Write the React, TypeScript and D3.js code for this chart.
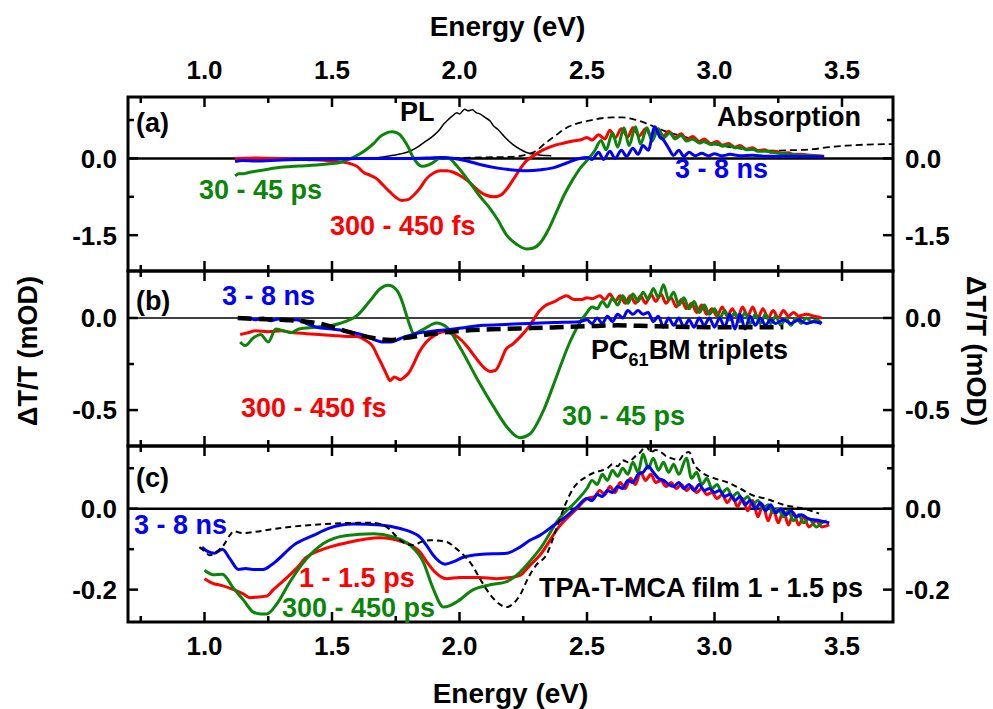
import React, { useEffect, useRef } from 'react'
import * as d3 from 'd3'

type Pt = [number, number]

// x axis ticks (Energy, eV)
const xMajor = [1.0, 1.5, 2.0, 2.5, 3.0, 3.5]
const xMinor = [0.75, 1.25, 1.75, 2.25, 2.75, 3.25]

// ---- panel (a): PL, absorption and dT/T spectra ----
const aPL: Pt[] = [[1.65,0.0],[1.70,0.03],[1.74,0.06],[1.767,0.085],[1.80,0.13],[1.832,0.21],[1.86,0.31],[1.897,0.44],[1.92,0.55],[1.94,0.68],[1.95,0.73],[1.97,0.82],[1.99,0.89],[2.0,0.87],[2.02,0.96],[2.035,0.93],[2.05,0.95],[2.067,0.89],[2.08,0.87],[2.10,0.80],[2.12,0.73],[2.133,0.64],[2.15,0.57],[2.17,0.46],[2.185,0.38],[2.21,0.27],[2.237,0.18],[2.26,0.12],[2.29,0.085],[2.32,0.06],[2.36,0.05]]
const aAbs: Pt[] = [[1.93,0.0],[2.0,0.01],[2.1,0.02],[2.2,0.03],[2.25,0.06],[2.29,0.12],[2.34,0.31],[2.38,0.46],[2.42,0.60],[2.46,0.68],[2.50,0.73],[2.55,0.78],[2.60,0.80],[2.64,0.80],[2.68,0.77],[2.73,0.69],[2.786,0.57],[2.84,0.48],[2.89,0.41],[2.94,0.34],[2.995,0.28],[3.06,0.22],[3.125,0.18],[3.18,0.16],[3.23,0.15],[3.30,0.16],[3.386,0.18],[3.45,0.22],[3.517,0.25],[3.6,0.27],[3.7,0.28]]
const aFs: Pt[] = [[1.12,0.0],[1.2,0.01],[1.3,0.0],[1.4,-0.02],[1.5,-0.05],[1.57,-0.1],[1.6,-0.16],[1.623,-0.27],[1.65,-0.33],[1.676,-0.40],[1.70,-0.52],[1.728,-0.66],[1.75,-0.76],[1.773,-0.82],[1.80,-0.80],[1.82,-0.72],[1.845,-0.58],[1.87,-0.40],[1.90,-0.28],[1.924,-0.24],[1.95,-0.24],[1.976,-0.27],[2.0,-0.33],[2.03,-0.43],[2.055,-0.54],[2.08,-0.65],[2.105,-0.72],[2.133,-0.75],[2.16,-0.72],[2.185,-0.60],[2.21,-0.42],[2.237,-0.21],[2.26,-0.06],[2.29,0.05],[2.33,0.17],[2.37,0.25],[2.41,0.30],[2.446,0.34],[2.48,0.37],[2.50,0.41],[2.52,0.36],[2.545,0.46],[2.57,0.38],[2.59,0.55],[2.61,0.40],[2.635,0.58],[2.66,0.42],[2.68,0.60],[2.705,0.44],[2.73,0.58],[2.75,0.45],[2.775,0.57],[2.80,0.44],[2.82,0.53],[2.845,0.41],[2.87,0.48],[2.89,0.37],[2.915,0.43],[2.94,0.33],[2.96,0.38],[2.985,0.29],[3.01,0.33],[3.03,0.26],[3.055,0.29],[3.08,0.22],[3.10,0.25],[3.125,0.18],[3.15,0.21],[3.17,0.15],[3.195,0.17],[3.22,0.12],[3.24,0.14],[3.265,0.10],[3.29,0.11],[3.31,0.08],[3.34,0.08],[3.38,0.06],[3.43,0.04]]
const aPs: Pt[] = [[1.12,-0.34],[1.135,-0.30],[1.153,-0.30],[1.17,-0.28],[1.19,-0.26],[1.25,-0.21],[1.31,-0.17],[1.37,-0.15],[1.44,-0.13],[1.50,-0.10],[1.53,-0.08],[1.56,-0.03],[1.584,0.02],[1.61,0.09],[1.636,0.18],[1.665,0.30],[1.69,0.43],[1.71,0.49],[1.734,0.52],[1.755,0.50],[1.767,0.46],[1.785,0.34],[1.80,0.21],[1.815,0.05],[1.832,-0.08],[1.845,-0.14],[1.858,-0.155],[1.877,-0.13],[1.897,-0.08],[1.915,-0.01],[1.93,0.02],[1.95,0.01],[1.963,-0.01],[1.99,-0.15],[2.03,-0.40],[2.08,-0.74],[2.12,-0.98],[2.15,-1.20],[2.185,-1.50],[2.225,-1.68],[2.263,-1.77],[2.29,-1.75],[2.315,-1.66],[2.35,-1.38],[2.38,-1.05],[2.41,-0.72],[2.446,-0.40],[2.475,-0.18],[2.50,-0.04],[2.53,0.15],[2.555,0.35],[2.575,0.17],[2.60,0.50],[2.62,0.22],[2.645,0.60],[2.665,0.25],[2.69,0.62],[2.71,0.28],[2.735,0.60],[2.755,0.34],[2.78,0.58],[2.80,0.40],[2.825,0.50],[2.845,0.38],[2.87,0.45],[2.89,0.34],[2.915,0.38],[2.94,0.30],[2.96,0.33],[2.985,0.27],[3.01,0.29],[3.03,0.24],[3.055,0.26],[3.08,0.21],[3.10,0.22],[3.125,0.17],[3.15,0.18],[3.17,0.14],[3.2,0.14],[3.25,0.10],[3.3,0.08],[3.35,0.06],[3.42,0.04]]
const aNs: Pt[] = [[1.12,-0.06],[1.15,-0.04],[1.2,-0.05],[1.3,-0.03],[1.4,-0.02],[1.5,-0.01],[1.6,0.0],[1.7,0.0],[1.8,0.0],[1.88,0.01],[1.93,0.02],[1.98,0.0],[2.03,-0.05],[2.08,-0.12],[2.15,-0.19],[2.20,-0.22],[2.263,-0.24],[2.32,-0.22],[2.37,-0.18],[2.42,-0.09],[2.47,0.0],[2.50,0.02],[2.52,-0.02],[2.545,0.12],[2.565,-0.02],[2.59,0.14],[2.61,0.0],[2.635,0.16],[2.655,0.04],[2.68,0.20],[2.70,0.08],[2.72,0.25],[2.74,0.16],[2.766,0.62],[2.785,0.42],[2.80,0.36],[2.82,0.20],[2.84,0.06],[2.86,0.16],[2.88,0.04],[2.90,0.12],[2.925,0.05],[2.95,0.10],[2.975,0.05],[3.0,0.09],[3.03,0.05],[3.06,0.08],[3.1,0.05],[3.15,0.06],[3.2,0.04],[3.3,0.04],[3.43,0.03]]

// ---- panel (b) ----
const bFs: Pt[] = [[1.14,-0.09],[1.17,-0.08],[1.2,-0.07],[1.25,-0.075],[1.3,-0.07],[1.35,-0.08],[1.40,-0.085],[1.45,-0.09],[1.505,-0.095],[1.56,-0.10],[1.597,-0.10],[1.63,-0.12],[1.66,-0.155],[1.68,-0.21],[1.70,-0.265],[1.715,-0.31],[1.728,-0.34],[1.745,-0.32],[1.767,-0.335],[1.785,-0.32],[1.80,-0.30],[1.82,-0.25],[1.84,-0.19],[1.87,-0.13],[1.897,-0.10],[1.937,-0.075],[1.96,-0.08],[1.99,-0.10],[2.03,-0.155],[2.055,-0.20],[2.08,-0.245],[2.10,-0.275],[2.12,-0.29],[2.14,-0.285],[2.16,-0.24],[2.18,-0.175],[2.21,-0.14],[2.24,-0.10],[2.276,-0.04],[2.315,0.04],[2.34,0.07],[2.37,0.087],[2.40,0.11],[2.42,0.12],[2.45,0.10],[2.48,0.10],[2.50,0.11],[2.52,0.105],[2.55,0.12],[2.57,0.10],[2.59,0.13],[2.61,0.09],[2.63,0.12],[2.65,0.08],[2.67,0.12],[2.69,0.08],[2.71,0.12],[2.73,0.08],[2.75,0.13],[2.77,0.09],[2.79,0.13],[2.81,0.08],[2.83,0.11],[2.85,0.06],[2.87,0.10],[2.89,0.05],[2.91,0.08],[2.93,0.03],[2.95,0.07],[2.97,0.02],[2.99,0.05],[3.01,0.01],[3.03,0.06],[3.05,0.01],[3.07,0.05],[3.09,0.0],[3.11,0.06],[3.13,0.01],[3.15,0.06],[3.17,0.0],[3.19,0.05],[3.21,0.0],[3.23,0.04],[3.25,0.0],[3.27,0.04],[3.29,0.01],[3.31,0.03],[3.33,0.01],[3.36,0.02],[3.39,0.01],[3.42,0.0]]
const bPs: Pt[] = [[1.14,-0.13],[1.16,-0.15],[1.19,-0.11],[1.22,-0.09],[1.25,-0.13],[1.28,-0.06],[1.31,-0.07],[1.34,-0.08],[1.37,-0.06],[1.44,-0.05],[1.53,-0.03],[1.60,0.015],[1.65,0.095],[1.69,0.16],[1.72,0.177],[1.754,0.15],[1.775,0.09],[1.79,0.024],[1.805,-0.04],[1.82,-0.085],[1.86,-0.06],[1.91,-0.027],[1.95,-0.05],[2.0,-0.155],[2.065,-0.32],[2.133,-0.48],[2.185,-0.59],[2.237,-0.65],[2.276,-0.63],[2.33,-0.50],[2.38,-0.32],[2.43,-0.14],[2.47,-0.03],[2.50,0.03],[2.52,0.06],[2.54,0.05],[2.56,0.09],[2.58,0.06],[2.60,0.11],[2.62,0.07],[2.64,0.12],[2.66,0.08],[2.68,0.13],[2.70,0.09],[2.72,0.14],[2.74,0.10],[2.76,0.16],[2.78,0.11],[2.80,0.18],[2.82,0.10],[2.84,0.14],[2.86,0.07],[2.88,0.11],[2.90,0.05],[2.92,0.09],[2.94,0.03],[2.96,0.07],[2.98,0.02],[3.00,0.05],[3.02,0.0],[3.04,0.04],[3.06,-0.01],[3.08,0.03],[3.10,-0.02],[3.12,0.03],[3.14,-0.03],[3.16,0.02],[3.18,-0.03],[3.20,0.02],[3.22,-0.03],[3.24,0.01],[3.26,-0.04],[3.28,0.0],[3.30,-0.04],[3.32,0.0],[3.34,-0.03],[3.36,0.0],[3.38,-0.02],[3.40,-0.01],[3.42,-0.03]]
const bNs: Pt[] = [[1.14,0.0],[1.17,0.0],[1.2,-0.01],[1.23,0.0],[1.26,-0.015],[1.29,-0.005],[1.32,-0.015],[1.36,-0.01],[1.40,-0.03],[1.44,-0.05],[1.50,-0.06],[1.57,-0.075],[1.636,-0.10],[1.67,-0.12],[1.695,-0.13],[1.73,-0.13],[1.754,-0.12],[1.79,-0.10],[1.83,-0.085],[1.90,-0.07],[1.96,-0.063],[2.03,-0.05],[2.094,-0.04],[2.18,-0.035],[2.276,-0.03],[2.37,-0.025],[2.47,-0.02],[2.50,-0.01],[2.52,-0.03],[2.54,0.0],[2.56,-0.03],[2.58,0.01],[2.60,-0.02],[2.62,0.02],[2.64,0.0],[2.66,0.04],[2.68,0.02],[2.70,0.04],[2.72,0.02],[2.74,0.03],[2.76,-0.02],[2.78,0.01],[2.80,-0.05],[2.82,0.0],[2.84,-0.04],[2.86,0.0],[2.88,-0.05],[2.90,-0.01],[2.92,-0.05],[2.94,0.0],[2.96,-0.04],[2.98,0.0],[3.00,-0.05],[3.02,0.0],[3.04,-0.05],[3.06,0.02],[3.08,-0.06],[3.10,0.02],[3.12,-0.06],[3.14,0.01],[3.16,-0.04],[3.18,0.0],[3.20,-0.04],[3.22,-0.01],[3.24,-0.03],[3.27,-0.01],[3.30,-0.03],[3.33,-0.01],[3.36,-0.03],[3.39,-0.02],[3.42,-0.03]]
const bTriplet: Pt[] = [[1.13,0.0],[1.2,-0.005],[1.3,-0.01],[1.4,-0.02],[1.48,-0.04],[1.55,-0.07],[1.63,-0.10],[1.728,-0.12],[1.78,-0.11],[1.9,-0.085],[2.0,-0.07],[2.16,-0.06],[2.28,-0.055],[2.50,-0.045],[2.62,-0.04],[2.76,-0.045],[3.02,-0.05],[3.27,-0.05]]

// ---- panel (c): TPA-T-MCA film ----
const cPs1: Pt[] = [[1.0,-0.173],[1.035,-0.185],[1.07,-0.19],[1.114,-0.20],[1.15,-0.21],[1.18,-0.22],[1.21,-0.218],[1.244,-0.216],[1.27,-0.20],[1.297,-0.185],[1.36,-0.148],[1.40,-0.12],[1.453,-0.103],[1.558,-0.084],[1.69,-0.072],[1.767,-0.08],[1.81,-0.09],[1.845,-0.107],[1.87,-0.13],[1.897,-0.152],[1.95,-0.173],[2.0,-0.17],[2.08,-0.17],[2.146,-0.173],[2.2,-0.17],[2.237,-0.165],[2.276,-0.14],[2.315,-0.115],[2.39,-0.045],[2.46,0.0],[2.50,0.025],[2.53,0.03],[2.55,0.045],[2.57,0.035],[2.59,0.055],[2.61,0.04],[2.63,0.065],[2.65,0.05],[2.67,0.075],[2.69,0.06],[2.71,0.09],[2.73,0.07],[2.75,0.085],[2.77,0.065],[2.79,0.07],[2.81,0.055],[2.83,0.065],[2.85,0.05],[2.87,0.06],[2.89,0.045],[2.91,0.055],[2.93,0.04],[2.95,0.05],[2.97,0.035],[2.99,0.04],[3.01,0.025],[3.03,0.035],[3.05,0.015],[3.07,0.03],[3.09,0.005],[3.11,0.025],[3.13,-0.005],[3.15,0.02],[3.17,-0.02],[3.19,0.01],[3.21,-0.03],[3.23,0.0],[3.25,-0.035],[3.27,-0.005],[3.29,-0.04],[3.31,-0.01],[3.33,-0.04],[3.35,-0.02],[3.37,-0.045],[3.40,-0.03],[3.42,-0.045],[3.45,-0.04]]
const cPs300: Pt[] = [[1.0,-0.152],[1.035,-0.163],[1.07,-0.162],[1.114,-0.197],[1.153,-0.226],[1.19,-0.255],[1.22,-0.26],[1.244,-0.26],[1.284,-0.235],[1.336,-0.18],[1.40,-0.124],[1.466,-0.086],[1.558,-0.066],[1.662,-0.062],[1.74,-0.07],[1.806,-0.09],[1.858,-0.132],[1.897,-0.198],[1.937,-0.243],[1.96,-0.24],[1.99,-0.23],[2.054,-0.20],[2.12,-0.188],[2.185,-0.18],[2.237,-0.157],[2.276,-0.13],[2.315,-0.10],[2.39,-0.025],[2.46,0.02],[2.50,0.05],[2.52,0.07],[2.54,0.06],[2.56,0.085],[2.58,0.07],[2.60,0.095],[2.62,0.08],[2.64,0.10],[2.66,0.085],[2.68,0.115],[2.70,0.09],[2.72,0.135],[2.74,0.10],[2.76,0.125],[2.78,0.095],[2.80,0.115],[2.82,0.09],[2.84,0.11],[2.86,0.085],[2.89,0.125],[2.91,0.075],[2.93,0.09],[2.95,0.06],[2.97,0.075],[2.99,0.05],[3.01,0.06],[3.03,0.04],[3.05,0.05],[3.07,0.03],[3.09,0.04],[3.11,0.02],[3.13,0.03],[3.15,0.01],[3.17,0.02],[3.19,0.0],[3.21,0.01],[3.23,-0.01],[3.25,0.0],[3.27,-0.02],[3.29,-0.005],[3.31,-0.03],[3.33,-0.015],[3.35,-0.035],[3.37,-0.025],[3.40,-0.045],[3.42,-0.035],[3.44,-0.03]]
const cNs: Pt[] = [[0.99,-0.095],[1.01,-0.105],[1.04,-0.11],[1.07,-0.10],[1.10,-0.124],[1.133,-0.15],[1.16,-0.148],[1.19,-0.15],[1.23,-0.15],[1.26,-0.14],[1.284,-0.128],[1.35,-0.09],[1.427,-0.066],[1.49,-0.048],[1.584,-0.038],[1.69,-0.04],[1.767,-0.049],[1.845,-0.07],[1.87,-0.09],[1.897,-0.115],[1.943,-0.137],[1.98,-0.13],[2.015,-0.12],[2.08,-0.113],[2.185,-0.11],[2.237,-0.095],[2.276,-0.078],[2.315,-0.066],[2.37,-0.041],[2.41,-0.023],[2.46,0.004],[2.50,0.025],[2.52,0.02],[2.54,0.035],[2.56,0.03],[2.58,0.045],[2.60,0.04],[2.62,0.055],[2.64,0.05],[2.66,0.07],[2.68,0.065],[2.70,0.085],[2.72,0.09],[2.74,0.105],[2.76,0.09],[2.78,0.075],[2.80,0.07],[2.82,0.06],[2.84,0.055],[2.86,0.065],[2.88,0.05],[2.90,0.06],[2.92,0.045],[2.94,0.06],[2.96,0.045],[2.98,0.05],[3.00,0.04],[3.02,0.045],[3.04,0.03],[3.06,0.035],[3.08,0.02],[3.10,0.03],[3.12,0.01],[3.14,0.02],[3.16,0.0],[3.18,0.015],[3.20,-0.005],[3.22,0.01],[3.24,-0.01],[3.26,0.0],[3.28,-0.015],[3.30,-0.005],[3.32,-0.02],[3.34,-0.015],[3.37,-0.025],[3.40,-0.028],[3.43,-0.032],[3.45,-0.035]]
const cFilm: Pt[] = [[0.98,-0.095],[1.0,-0.105],[1.02,-0.115],[1.05,-0.105],[1.075,-0.09],[1.10,-0.065],[1.114,-0.056],[1.15,-0.06],[1.2,-0.057],[1.27,-0.05],[1.35,-0.044],[1.427,-0.04],[1.5,-0.037],[1.6,-0.035],[1.662,-0.035],[1.714,-0.045],[1.74,-0.06],[1.767,-0.078],[1.82,-0.09],[1.85,-0.082],[1.885,-0.078],[1.95,-0.082],[1.98,-0.095],[2.015,-0.114],[2.05,-0.14],[2.08,-0.173],[2.133,-0.222],[2.185,-0.243],[2.21,-0.235],[2.237,-0.214],[2.27,-0.17],[2.30,-0.14],[2.34,-0.115],[2.38,-0.05],[2.41,0.003],[2.446,0.05],[2.50,0.08],[2.53,0.09],[2.56,0.095],[2.58,0.10],[2.60,0.11],[2.62,0.105],[2.64,0.12],[2.66,0.115],[2.69,0.13],[2.71,0.14],[2.73,0.156],[2.75,0.14],[2.77,0.145],[2.79,0.14],[2.81,0.13],[2.83,0.125],[2.86,0.12],[2.88,0.135],[2.90,0.14],[2.92,0.11],[2.95,0.09],[3.00,0.075],[3.047,0.066],[3.10,0.05],[3.15,0.033],[3.20,0.025],[3.28,0.008],[3.35,0.0],[3.41,-0.012]]

const RED = '#ff0000'
const GREEN = '#0a850a'
const BLUE = '#0000ff'
const FONT = '"Liberation Sans", Arial, Helvetica, sans-serif'

const W = 993, H = 709
const LEFT = 128, RIGHT = 893

type Series = { data: Pt[], color: string, width: number, dash?: string }
type Label = { parts: [string, boolean][], e: number, v: number, color: string }
const txt = (s: string, e: number, v: number, color: string): Label => ({ parts: [[s, false]], e, v, color })

const panels = [
  {
    top: 97, bottom: 271, domain: [-2.2, 1.2], major: [-1.5, 0], minor: [-0.75, 0.75], zeroW: 2.5,
    series: [
      { data: aPL, color: '#000', width: 1.5 },
      { data: aAbs, color: '#000', width: 1.8, dash: '7,4' },
      { data: aFs, color: RED, width: 3 },
      { data: aPs, color: GREEN, width: 3 },
      { data: aNs, color: BLUE, width: 3 },
    ] as Series[],
    labels: [
      txt('(a)', 0.731, 0.516, '#000'),
      txt('PL', 1.767, 0.731, '#000'),
      txt('Absorption', 3.01, 0.633, '#000'),
      txt('30 - 45 ps', 0.978, -0.793, GREEN),
      txt('300 - 450 fs', 1.492, -1.496, RED),
      txt('3 - 8 ns', 2.845, -0.383, BLUE),
    ],
  },
  {
    top: 271, bottom: 446, domain: [-0.695, 0.255], major: [-0.5, 0], minor: [-0.25], zeroW: 1.5,
    series: [
      { data: bFs, color: RED, width: 3 },
      { data: bPs, color: GREEN, width: 3 },
      { data: bNs, color: BLUE, width: 3 },
      { data: bTriplet, color: '#000', width: 4.5, dash: '14,7' },
    ] as Series[],
    labels: [
      txt('(b)', 0.731, 0.043, '#000'),
      txt('3 - 8 ns', 1.069, 0.07, BLUE),
      txt('300 - 450 fs', 1.143, -0.538, RED),
      { parts: [['PC', false], ['61', true], ['BM triplets', false]], e: 2.516, v: -0.223, color: '#000' } as Label,
      txt('30 - 45 ps', 2.402, -0.581, GREEN),
    ],
  },
  {
    top: 446, bottom: 622, domain: [-0.28, 0.155], major: [-0.2, 0], minor: [-0.1, 0.1], zeroW: 2.5,
    series: [
      { data: cPs1, color: RED, width: 3 },
      { data: cPs300, color: GREEN, width: 3 },
      { data: cNs, color: BLUE, width: 3 },
      { data: cFilm, color: '#000', width: 2, dash: '6,4' },
    ] as Series[],
    labels: [
      txt('(c)', 0.731, 0.054, '#000'),
      txt('3 - 8 ns', 0.7235, -0.0625, BLUE),
      txt('1 - 1.5 ps', 1.371, -0.1935, RED),
      txt('300 - 450 ps', 1.304, -0.2676, GREEN),
      txt('TPA-T-MCA film 1 - 1.5 ps', 2.312, -0.218, '#000'),
    ],
  },
]

export default function App() {
  const ref = useRef<SVGSVGElement>(null)

  useEffect(() => {
    const svg = d3.select(ref.current)
    svg.selectAll('*').remove()
    svg.style('font-family', FONT).style('font-weight', 'bold')

    const x = d3.scaleLinear().domain([0.7, 3.7]).range([LEFT, RIGHT])
    const fmt = (v: number) => d3.format('.1f')(v).replace('\u2212', '-')

    panels.forEach((p, i) => {
      const y = d3.scaleLinear().domain(p.domain).range([p.bottom, p.top])
      const g = svg.append('g')

      // clip for the curves
      const clipId = 'clip' + i
      svg.append('clipPath').attr('id', clipId)
        .append('rect').attr('x', LEFT).attr('y', p.top).attr('width', RIGHT - LEFT).attr('height', p.bottom - p.top)

      // zero line
      g.append('line')
        .attr('x1', LEFT).attr('x2', RIGHT).attr('y1', y(0)).attr('y2', y(0))
        .attr('stroke', '#000').attr('stroke-width', p.zeroW)

      const line = d3.line<Pt>().x(d => x(d[0])).y(d => y(d[1])).curve(d3.curveMonotoneX)
      const curves = g.append('g').attr('clip-path', `url(#${clipId})`)
      p.series.forEach(s => {
        curves.append('path')
          .attr('d', line(s.data))
          .attr('fill', 'none')
          .attr('stroke', s.color)
          .attr('stroke-width', s.width)
          .attr('stroke-linejoin', 'round')
          .attr('stroke-dasharray', s.dash || null)
      })

      // frame
      g.append('rect')
        .attr('x', LEFT).attr('y', p.top).attr('width', RIGHT - LEFT).attr('height', p.bottom - p.top)
        .attr('fill', 'none').attr('stroke', '#000').attr('stroke-width', 3)

      // x ticks, pointing inward on top and bottom edges
      const xt = [...xMajor.map(v => [v, 10]), ...xMinor.map(v => [v, 6])]
      xt.forEach(([v, len]) => {
        g.append('line').attr('x1', x(v)).attr('x2', x(v)).attr('y1', p.top).attr('y2', p.top + len)
          .attr('stroke', '#000').attr('stroke-width', 2.5)
        g.append('line').attr('x1', x(v)).attr('x2', x(v)).attr('y1', p.bottom).attr('y2', p.bottom - len)
          .attr('stroke', '#000').attr('stroke-width', 2.5)
      })

      // y ticks on both sides
      const yt = [...p.major.map(v => [v, 10]), ...p.minor.map(v => [v, 6])]
      yt.forEach(([v, len]) => {
        g.append('line').attr('x1', LEFT).attr('x2', LEFT + len).attr('y1', y(v)).attr('y2', y(v))
          .attr('stroke', '#000').attr('stroke-width', 2.5)
        g.append('line').attr('x1', RIGHT).attr('x2', RIGHT - len).attr('y1', y(v)).attr('y2', y(v))
          .attr('stroke', '#000').attr('stroke-width', 2.5)
      })
      p.major.forEach(v => {
        g.append('text').attr('x', LEFT - 11).attr('y', y(v)).attr('dy', '0.36em')
          .attr('text-anchor', 'end').attr('font-size', 26).text(fmt(v))
        g.append('text').attr('x', RIGHT + 12).attr('y', y(v)).attr('dy', '0.36em')
          .attr('text-anchor', 'start').attr('font-size', 26).text(fmt(v))
      })

      // annotations
      p.labels.forEach(l => {
        const t = g.append('text').attr('x', x(l.e)).attr('y', y(l.v))
          .attr('fill', l.color).attr('font-size', 27)
        let shifted = false
        l.parts.forEach(([s, sub]) => {
          const ts = t.append('tspan').text(s)
          if (sub) { ts.attr('font-size', 18).attr('dy', 7); shifted = true }
          else if (shifted) { ts.attr('dy', -7); shifted = false }
        })
      })
    })

    // x tick labels on top and bottom
    xMajor.forEach(v => {
      svg.append('text').attr('x', x(v)).attr('y', 79).attr('text-anchor', 'middle')
        .attr('font-size', 26).text(fmt(v))
      svg.append('text').attr('x', x(v)).attr('y', 655).attr('text-anchor', 'middle')
        .attr('font-size', 26).text(fmt(v))
    })

    // axis titles
    const midX = (LEFT + RIGHT) / 2
    svg.append('text').attr('x', midX - 3).attr('y', 36).attr('text-anchor', 'middle')
      .attr('font-size', 28).text('Energy (eV)')
    svg.append('text').attr('x', midX).attr('y', 703).attr('text-anchor', 'middle')
      .attr('font-size', 28).text('Energy (eV)')
    svg.append('text').attr('transform', 'translate(37,351) rotate(-90)')
      .attr('text-anchor', 'middle').attr('font-size', 27).text('\u0394T/T (mOD)')
    svg.append('text').attr('transform', 'translate(967,351) rotate(90)')
      .attr('text-anchor', 'middle').attr('font-size', 27).text('\u0394T/T (mOD)')
  }, [])

  return (
    <svg ref={ref} width={W} height={H}
      style={{ position: 'absolute', left: 0, top: 0, background: '#fff' }} />
  )
}
